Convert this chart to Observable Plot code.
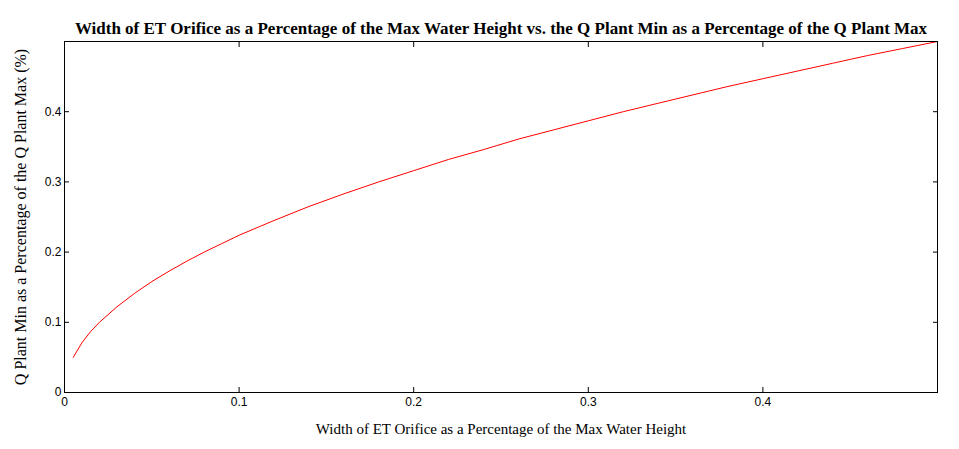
<!DOCTYPE html>
<html>
<head>
<meta charset="utf-8">
<script src="https://cdn.jsdelivr.net/npm/d3@7"></script>
<script src="https://cdn.jsdelivr.net/npm/@observablehq/plot@0.6"></script>
<style>
  html, body { margin: 0; padding: 0; background: #fff; }
  #chart svg { display: block; }
</style>
</head>
<body>
<div id="chart"></div>
<script>
const titleText = "Width of ET Orifice as a Percentage of the Max Water Height vs. the Q Plant Min as a Percentage of the Q Plant Max";
const xLabel = "Width of ET Orifice as a Percentage of the Max Water Height";
const yLabel = "Q Plant Min as a Percentage of the Q Plant Max (%)";

const widthPct = [0.005, 0.01, 0.015, 0.02, 0.03, 0.04, 0.05, 0.06, 0.07, 0.08, 0.09, 0.10,
  0.12, 0.14, 0.16, 0.18, 0.20, 0.22, 0.24, 0.26, 0.28, 0.30, 0.32, 0.34, 0.36, 0.38,
  0.40, 0.42, 0.44, 0.46, 0.48, 0.50];
const qPct = [0.050, 0.071, 0.087, 0.100, 0.122, 0.141, 0.158, 0.173, 0.187, 0.200, 0.212, 0.224,
  0.245, 0.265, 0.283, 0.300, 0.316, 0.332, 0.346, 0.361, 0.374, 0.387, 0.400, 0.412, 0.424, 0.436,
  0.447, 0.458, 0.469, 0.480, 0.490, 0.500];
const xTicks = [0, 0.1, 0.2, 0.3, 0.4];
const yTicks = [0, 0.1, 0.2, 0.3, 0.4];

const data = widthPct.map((x, i) => ({x, y: qPct[i]}));
const fmt = d => d === 0 ? "0" : String(d);

const plot = Plot.plot({
  width: 959,
  height: 449,
  marginLeft: 64,
  marginRight: 22,
  marginTop: 41,
  marginBottom: 57,
  style: {background: "#fff", color: "#000", fontFamily: "Liberation Sans, Arial, sans-serif", fontSize: "12px"},
  x: {domain: [0, 0.5]},
  y: {domain: [0, 0.5]},
  marks: [
    Plot.axisX({anchor: "bottom", ticks: xTicks, tickSize: -5, tickPadding: 10, tickFormat: fmt, label: null, fontSize: 12}),
    Plot.axisX({anchor: "top", ticks: xTicks, tickSize: -5, tickFormat: () => "", label: null}),
    Plot.axisY({anchor: "left", ticks: yTicks, tickSize: -5, tickPadding: 8, tickFormat: fmt, label: null, fontSize: 12}),
    Plot.axisY({anchor: "right", ticks: yTicks, tickSize: -5, tickFormat: () => "", label: null}),
    Plot.line(data, {x: "x", y: "y", stroke: "#ff0000", strokeWidth: 1}),
    Plot.frame({stroke: "#000", strokeWidth: 1}),
    Plot.text([titleText], {frameAnchor: "top", dy: -20, text: d => d, fontFamily: "Liberation Serif, Times New Roman, serif", fontWeight: "bold", fontSize: 17, fill: "#000"}),
    Plot.text([xLabel], {frameAnchor: "bottom", dy: 41, text: d => d, fontFamily: "Liberation Serif, Times New Roman, serif", fontSize: 15, fill: "#000"}),
    Plot.text([yLabel], {frameAnchor: "left", dx: -44, rotate: -90, textAnchor: "middle", text: d => d, fontFamily: "Liberation Serif, Times New Roman, serif", fontSize: 16, fill: "#000"})
  ]
});
document.getElementById("chart").appendChild(plot);
</script>
</body>
</html>
